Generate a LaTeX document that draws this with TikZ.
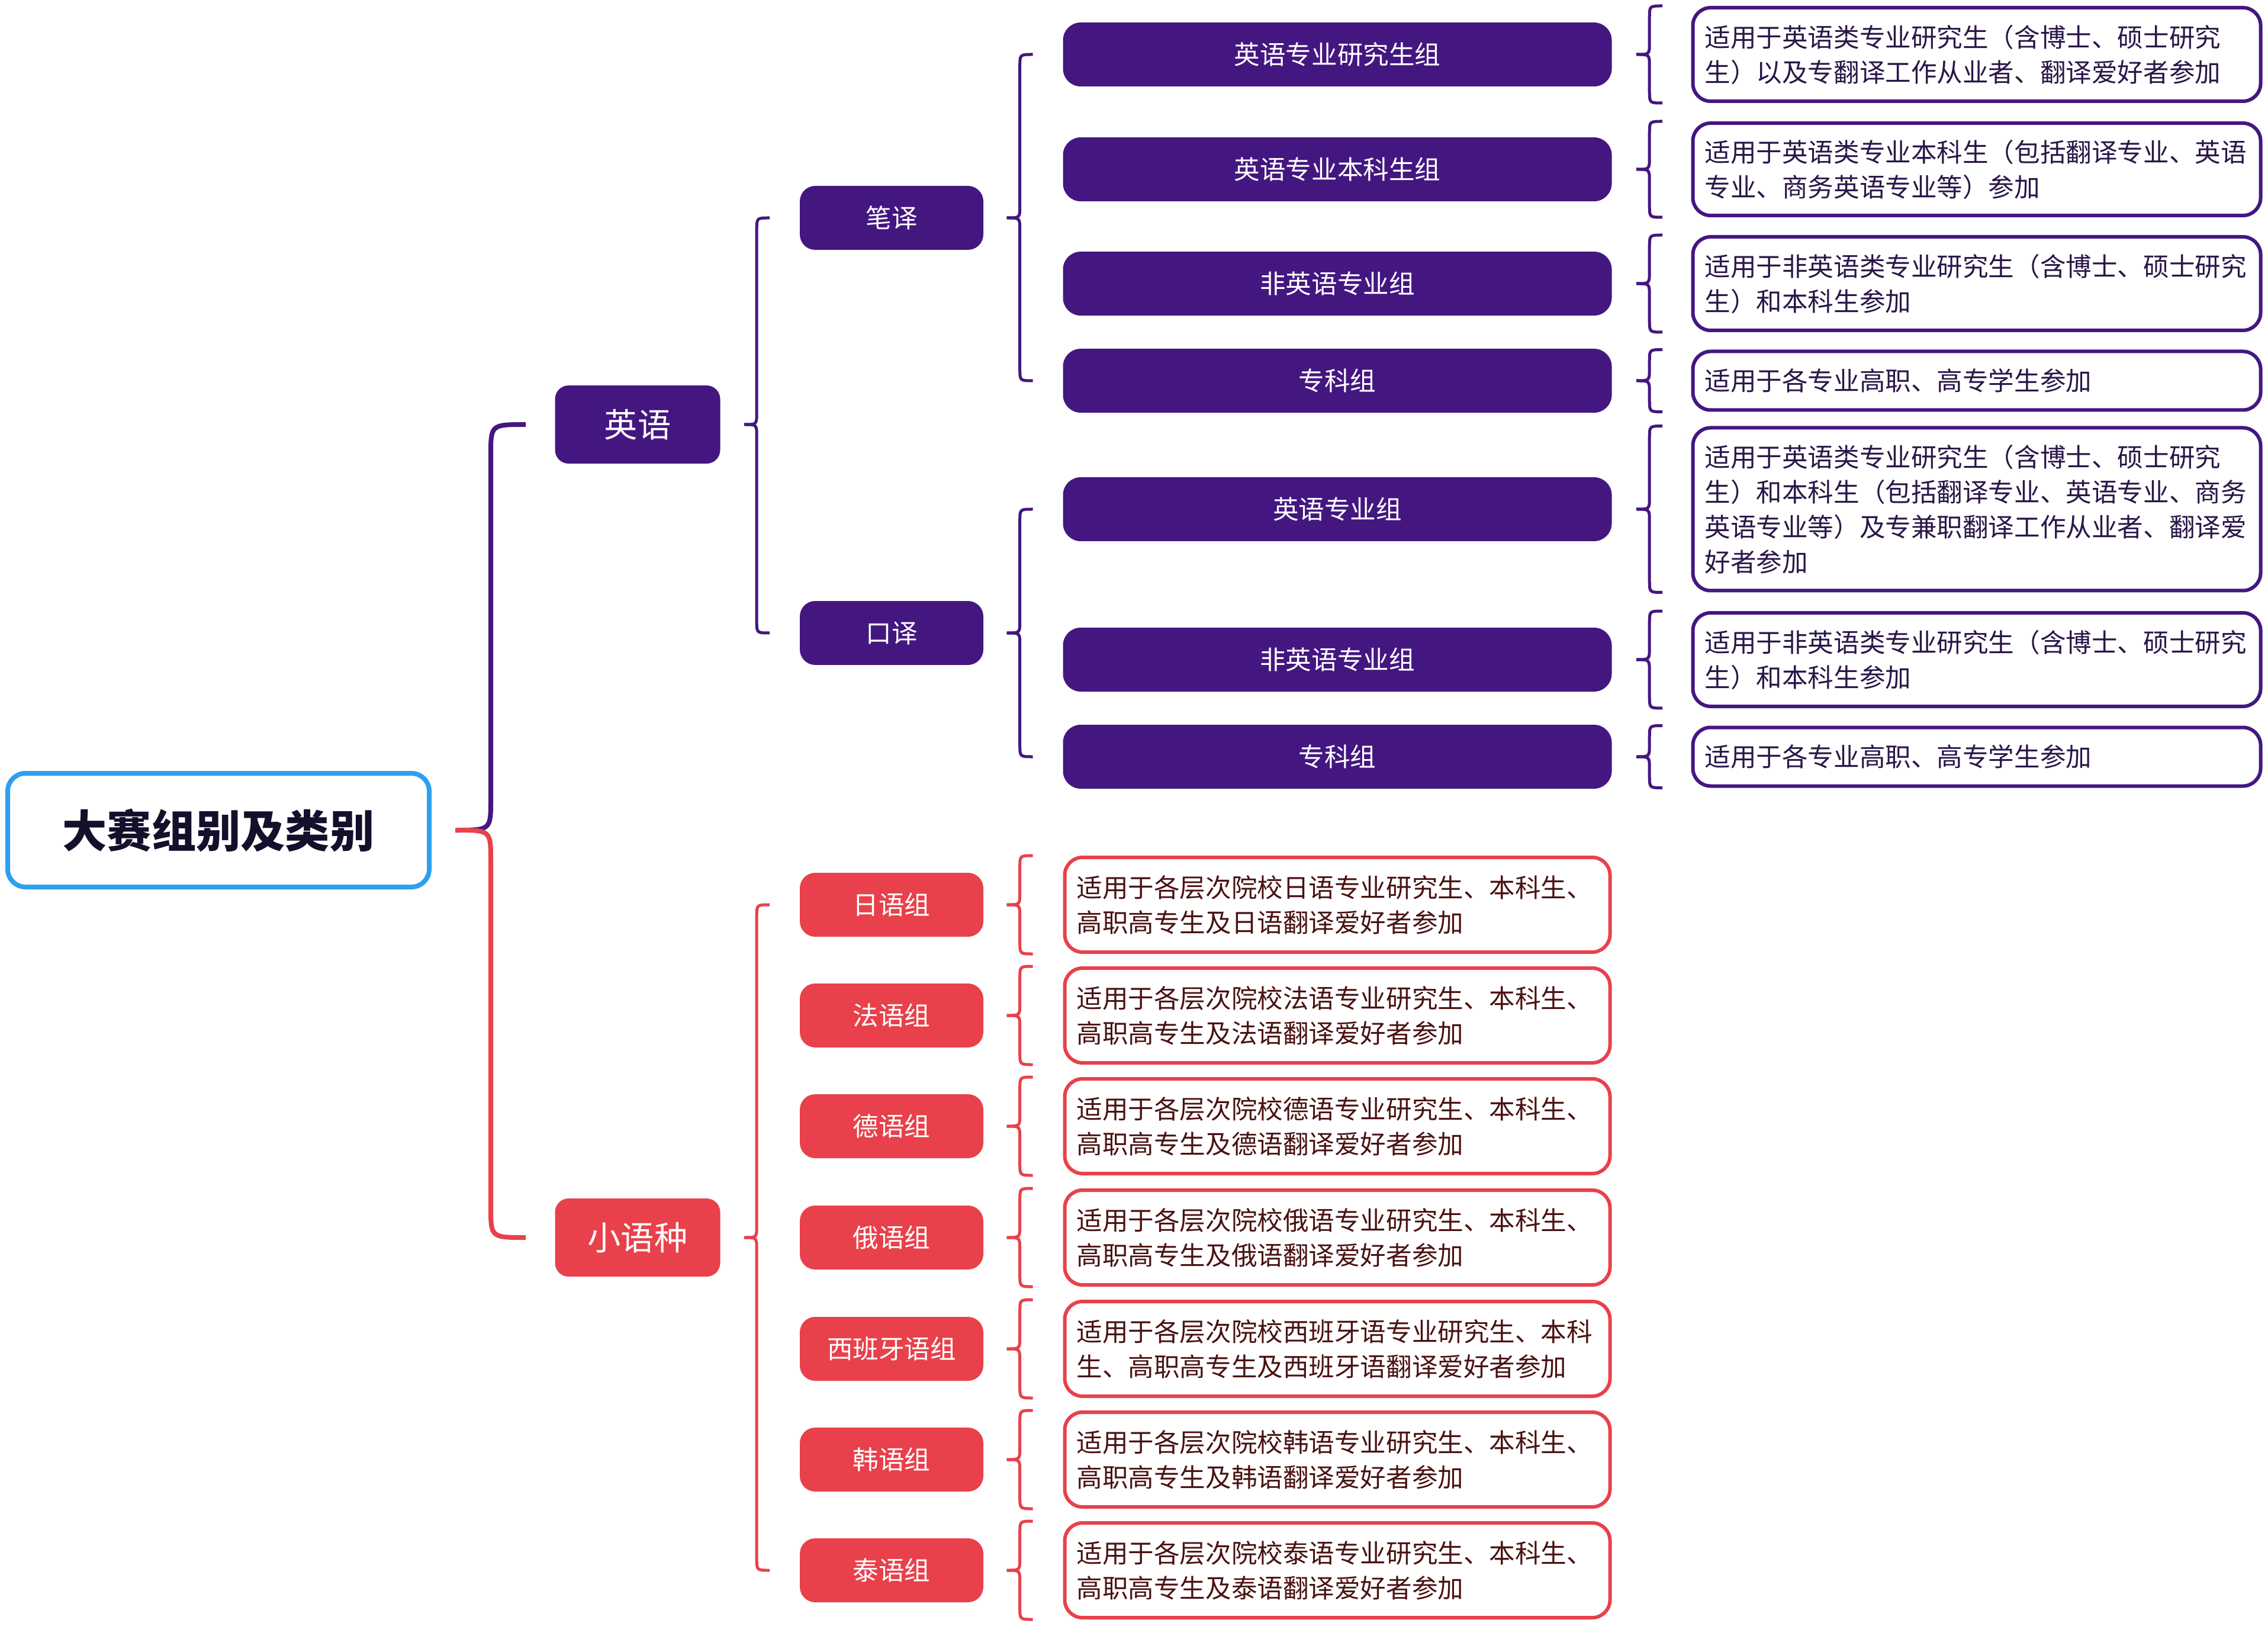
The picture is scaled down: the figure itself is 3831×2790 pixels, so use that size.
\documentclass[tikz,border=0pt]{standalone}
\usepackage{fontspec}
\setmainfont{Noto Sans CJK SC}
\usetikzlibrary{calc}
\definecolor{pp}{HTML}{441780}
\definecolor{rd}{HTML}{E8414B}
\definecolor{bl}{HTML}{2E9FEF}
\definecolor{ptext}{HTML}{2A1648}
\definecolor{rtext}{HTML}{4A1212}
\definecolor{roottext}{HTML}{150F2B}
% #1 upper style, #2 lower style, #3 notch, #4 dx notch->vertical, #5 dx vertical->end, #6 top ref, #7 bottom ref, #8 radius
\newcommand\curlybrace[8]{%
  \coordinate (bn) at (#3);
  \coordinate (bv) at ($(bn)+(#4,0)$);
  \coordinate (bt) at (bv |- #6);
  \coordinate (bb) at (bv |- #7);
  \draw[#1] ($(bt)+(#5,0)$) .. controls (bt) .. ($(bt)+(0,#8)$) -- ($(bv)+(0,-#8)$) .. controls (bv) .. (bn);
  \draw[#2] (bn) .. controls (bv) .. ($(bv)+(0,#8)$) -- ($(bb)+(0,-#8)$) .. controls (bb) .. ($(bb)+(#5,0)$);
}
\tikzset{
  rootbox/.style={draw=bl, line width=0.8mm, rounded corners=3mm, fill=white,
    minimum width=71.2mm, minimum height=19.2mm, text=roottext,
    font=\bfseries\fontsize{21.4}{25}\selectfont},
  lone/.style={rounded corners=2.3mm, minimum width=27.9mm, minimum height=13.2mm,
    text=white, inner sep=0pt, font=\fontsize{16}{19}\selectfont},
  ltwo/.style={rounded corners=2.6mm, minimum width=31mm, minimum height=10.8mm,
    text=white, inner sep=0pt, font=\fontsize{12.4}{15}\selectfont},
  lthree/.style={rounded corners=3mm, minimum width=92.7mm, minimum height=10.8mm,
    fill=pp, text=white, inner sep=0pt, font=\fontsize{12.4}{15}\selectfont},
  pdesc/.style={draw=pp, line width=0.6mm, rounded corners=3mm, fill=white,
    align=left, text width=91.9mm, inner xsep=2mm, inner ysep=0pt,
    text=ptext, font=\fontsize{12.4}{16.8}\selectfont},
  rdesc/.style={draw=rd, line width=0.6mm, rounded corners=3mm, fill=white,
    align=left, text width=88.1mm, inner xsep=2mm, inner ysep=0pt,
    text=rtext, font=\fontsize{12.4}{16.8}\selectfont},
  pbr/.style={draw=pp, line width=0.5mm},
  rbr/.style={draw=rd, line width=0.5mm},
  rootup/.style={draw=pp, line width=0.8mm},
  rootdn/.style={draw=rd, line width=0.8mm},
}
\begin{document}
\begin{tikzpicture}[x=0.1mm,y=-0.1mm]
\fill[white] (0,0) rectangle (3831,2790);
\useasboundingbox (0,0) rectangle (3831,2790);

% root
\node[rootbox] (root) at (369,1402) {大赛组别及类别};

% level 1
\node[lone, fill=pp] (yy) at (1077,717) {英语};
\node[lone, fill=rd] (xyz) at (1077,2090) {小语种};

% level 2 English
\node[ltwo, fill=pp] (bi) at (1506,368) {笔译};
\node[ltwo, fill=pp] (kou) at (1506,1069) {口译};

% level 3 English
\node[lthree] (b1) at (2259,92) {英语专业研究生组};
\node[lthree] (b2) at (2259,286) {英语专业本科生组};
\node[lthree] (b3) at (2259,479) {非英语专业组};
\node[lthree] (b4) at (2259,643) {专科组};
\node[lthree] (k1) at (2259,860) {英语专业组};
\node[lthree] (k2) at (2259,1114) {非英语专业组};
\node[lthree] (k3) at (2259,1278) {专科组};

% descriptions English
\node[pdesc, minimum height=15.8mm] (db1) at (3339,92) {适用于英语类专业研究生（含博士、硕士研究\\生）以及专翻译工作从业者、翻译爱好者参加};
\node[pdesc, minimum height=15.6mm] (db2) at (3339,286) {适用于英语类专业本科生（包括翻译专业、英语\\专业、商务英语专业等）参加};
\node[pdesc, minimum height=15.8mm] (db3) at (3339,479) {适用于非英语类专业研究生（含博士、硕士研究\\生）和本科生参加};
\node[pdesc, minimum height=9.9mm] (db4) at (3339,643) {适用于各专业高职、高专学生参加};
\node[pdesc, minimum height=27.5mm] (dk1) at (3339,860) {适用于英语类专业研究生（含博士、硕士研究\\生）和本科生（包括翻译专业、英语专业、商务\\英语专业等）及专兼职翻译工作从业者、翻译爱\\好者参加};
\node[pdesc, minimum height=15.8mm] (dk2) at (3339,1114) {适用于非英语类专业研究生（含博士、硕士研究\\生）和本科生参加};
\node[pdesc, minimum height=9.9mm] (dk3) at (3339,1278) {适用于各专业高职、高专学生参加};

% level 2 minor languages
\node[ltwo, fill=rd] (s1) at (1506,1528) {日语组};
\node[ltwo, fill=rd] (s2) at (1506,1715) {法语组};
\node[ltwo, fill=rd] (s3) at (1506,1902) {德语组};
\node[ltwo, fill=rd] (s4) at (1506,2090) {俄语组};
\node[ltwo, fill=rd] (s5) at (1506,2278) {西班牙语组};
\node[ltwo, fill=rd] (s6) at (1506,2465) {韩语组};
\node[ltwo, fill=rd] (s7) at (1506,2652) {泰语组};

% descriptions minor languages
\node[rdesc, minimum height=16mm] (ds1) at (2259,1528) {适用于各层次院校日语专业研究生、本科生、\\高职高专生及日语翻译爱好者参加};
\node[rdesc, minimum height=16mm] (ds2) at (2259,1715) {适用于各层次院校法语专业研究生、本科生、\\高职高专生及法语翻译爱好者参加};
\node[rdesc, minimum height=16mm] (ds3) at (2259,1902) {适用于各层次院校德语专业研究生、本科生、\\高职高专生及德语翻译爱好者参加};
\node[rdesc, minimum height=16mm] (ds4) at (2259,2090) {适用于各层次院校俄语专业研究生、本科生、\\高职高专生及俄语翻译爱好者参加};
\node[rdesc, minimum height=16mm] (ds5) at (2259,2278) {适用于各层次院校西班牙语专业研究生、本科\\生、高职高专生及西班牙语翻译爱好者参加};
\node[rdesc, minimum height=16mm] (ds6) at (2259,2465) {适用于各层次院校韩语专业研究生、本科生、\\高职高专生及韩语翻译爱好者参加};
\node[rdesc, minimum height=16mm] (ds7) at (2259,2652) {适用于各层次院校泰语专业研究生、本科生、\\高职高专生及泰语翻译爱好者参加};

% brackets
\curlybrace{rootup}{rootdn}{$(root.east)+(40,0)$}{60}{59}{yy.west}{xyz.west}{52}
\curlybrace{pbr}{pbr}{$(yy.east)+(40,0)$}{21}{22}{bi.west}{kou.west}{20}
\curlybrace{pbr}{pbr}{$(bi.east)+(39,0)$}{22}{22}{b1.west}{b4.west}{20}
\curlybrace{pbr}{pbr}{$(kou.east)+(39,0)$}{22}{22}{k1.west}{k3.west}{20}
\curlybrace{pbr}{pbr}{$(b1.east)+(41,0)$}{22}{22}{db1.north}{db1.south}{20}
\curlybrace{pbr}{pbr}{$(b2.east)+(41,0)$}{22}{22}{db2.north}{db2.south}{20}
\curlybrace{pbr}{pbr}{$(b3.east)+(41,0)$}{22}{22}{db3.north}{db3.south}{20}
\curlybrace{pbr}{pbr}{$(b4.east)+(41,0)$}{22}{22}{db4.north}{db4.south}{20}
\curlybrace{pbr}{pbr}{$(k1.east)+(41,0)$}{22}{22}{dk1.north}{dk1.south}{20}
\curlybrace{pbr}{pbr}{$(k2.east)+(41,0)$}{22}{22}{dk2.north}{dk2.south}{20}
\curlybrace{pbr}{pbr}{$(k3.east)+(41,0)$}{22}{22}{dk3.north}{dk3.south}{20}
\curlybrace{rbr}{rbr}{$(xyz.east)+(40,0)$}{21}{22}{s1.west}{s7.west}{20}
\curlybrace{rbr}{rbr}{$(s1.east)+(39,0)$}{22}{22}{ds1.north}{ds1.south}{20}
\curlybrace{rbr}{rbr}{$(s2.east)+(39,0)$}{22}{22}{ds2.north}{ds2.south}{20}
\curlybrace{rbr}{rbr}{$(s3.east)+(39,0)$}{22}{22}{ds3.north}{ds3.south}{20}
\curlybrace{rbr}{rbr}{$(s4.east)+(39,0)$}{22}{22}{ds4.north}{ds4.south}{20}
\curlybrace{rbr}{rbr}{$(s5.east)+(39,0)$}{22}{22}{ds5.north}{ds5.south}{20}
\curlybrace{rbr}{rbr}{$(s6.east)+(39,0)$}{22}{22}{ds6.north}{ds6.south}{20}
\curlybrace{rbr}{rbr}{$(s7.east)+(39,0)$}{22}{22}{ds7.north}{ds7.south}{20}
\end{tikzpicture}
\end{document}
